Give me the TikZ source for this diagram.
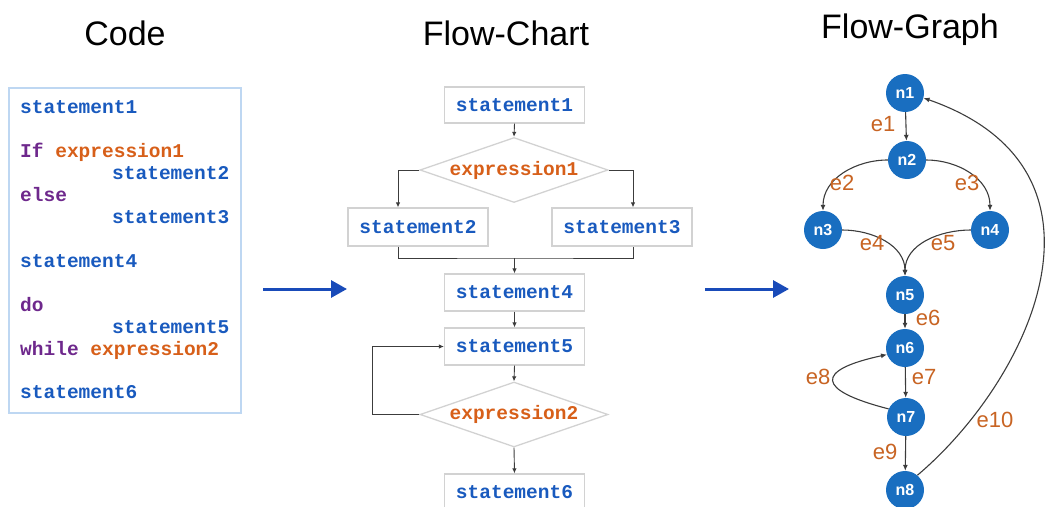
\documentclass[tikz,border=0pt]{standalone}
\usepackage{fontspec}
\setmainfont{Liberation Sans}
\newfontfamily\codefont{Liberation Mono}
\usetikzlibrary{shapes.geometric,arrows.meta,calc}
\definecolor{cblue}{RGB}{25,90,190}
\definecolor{cpurple}{RGB}{110,40,140}
\definecolor{corange}{RGB}{215,95,25}
\definecolor{lorange}{RGB}{200,100,35}
\definecolor{nodeblue}{RGB}{25,110,192}
\definecolor{arrowblue}{RGB}{25,75,185}
\definecolor{boxgray}{RGB}{210,210,210}
\definecolor{codeborder}{RGB}{190,215,242}
\definecolor{linegray}{RGB}{60,60,60}
\tikzset{
  title/.style={font=\fontsize{34}{40}\selectfont, anchor=base},
  codetxt/.style={font=\codefont\bfseries\fontsize{19.5}{22}\selectfont, anchor=base west, inner sep=0},
  fcbox/.style={draw=boxgray, line width=1.3pt, minimum width=140pt, minimum height=36pt, inner sep=0,
    font=\codefont\bfseries\fontsize{19.5}{22}\selectfont, text=cblue},
  fcdia/.style={diamond, draw=boxgray, line width=1.3pt, minimum width=188pt, minimum height=65pt, inner sep=0, aspect=2.9,
    font=\codefont\bfseries\fontsize{19.5}{22}\selectfont, text=corange},
  fcline/.style={draw=linegray, line width=0.9pt},
  fcarrow/.style={fcline, -{Latex[length=5pt,width=4.5pt]}},
  gnode/.style={circle, fill=nodeblue, minimum size=38pt, inner sep=0, text=white, font=\bfseries\fontsize{16}{18}\selectfont},
  gedge/.style={draw=linegray, line width=1.1pt, -{Latex[length=6pt,width=5pt]}},
  elabel/.style={text=lorange, font=\fontsize{22}{24}\selectfont, inner sep=0},
  bigarrow/.style={draw=arrowblue, line width=3pt, -{Triangle[length=16pt,width=17pt]}}
}
\begin{document}
\begin{tikzpicture}[x=1pt,y=1pt]
\useasboundingbox (0,0) rectangle (1046,-506);
\clip (0,0) rectangle (1046,-506);
% titles
\node[title] (tcode) at (125,-45) {Code};
\node[title] (tchart) at (506,-45) {Flow-Chart};
\node[title] (tgraph) at (910,-38) {Flow-Graph};
% code box
\draw[codeborder, line width=1.5pt] (9,-88) rectangle (241,-413);
\node[codetxt, text=cblue] (c1) at (20,-113) {statement1};
\node[codetxt, text=cpurple] (c2) at (20,-157) {If \textcolor{corange}{expression1}};
\node[codetxt, text=cblue] (c3) at (112,-179) {statement2};
\node[codetxt, text=cpurple] (c4) at (20,-201) {else};
\node[codetxt, text=cblue] (c5) at (112,-223) {statement3};
\node[codetxt, text=cblue] (c6) at (20,-267) {statement4};
\node[codetxt, text=cpurple] (c7) at (20,-311) {do};
\node[codetxt, text=cblue] (c8) at (112,-333) {statement5};
\node[codetxt, text=cpurple] (c9) at (20,-355) {while \textcolor{corange}{expression2}};
\node[codetxt, text=cblue] (c10) at (20,-398) {statement6};
% big arrows
\coordinate (a1s) at (263,-289);
\coordinate (a1e) at (347,-289);
\coordinate (a2s) at (705,-289);
\coordinate (a2e) at (789,-289);
\draw[bigarrow] (a1s) -- (a1e);
\draw[bigarrow] (a2s) -- (a2e);
% flow chart
\node[fcbox] (s1) at (514.5,-105) {statement1};
\node[fcdia] (d1) at (514,-170) {expression1};
\node[fcbox, minimum height=38pt] (s2) at (418,-227) {statement2};
\node[fcbox, minimum height=38pt] (s3) at (622,-227) {statement3};
\node[fcbox, minimum height=37pt] (s4) at (514.5,-292.5) {statement4};
\node[fcbox, minimum height=37pt] (s5) at (514.5,-346.5) {statement5};
\node[fcdia] (d2) at (514,-414.5) {expression2};
\node[fcbox, minimum height=37pt] (s6) at (514.5,-492.5) {statement6};
\draw[fcarrow] (s1.south) -- (d1.north);
\draw[fcarrow] (d1.west) -| ([xshift=-20pt]s2.north);
\draw[fcarrow] (d1.east) -| ([xshift=11pt]s3.north);
\coordinate (m) at (514.5,-258);
\draw[fcline] ([xshift=-20pt]s2.south) |- (m) -| ([xshift=11pt]s3.south);
\draw[fcarrow] (m) -- (s4.north);
\draw[fcarrow] (s4.south) -- (s5.north);
\draw[fcarrow] (s5.south) -- (d2.north);
\coordinate (lp) at (372,-414.5);
\draw[fcarrow] (d2.west) -- (lp) |- (s5.west);
\draw[fcarrow] (d2.south) -- (s6.north);
% flow graph
\node[gnode] (n1) at (905,-93) {n1};
\node[gnode] (n2) at (907,-160) {n2};
\node[gnode] (n3) at (823,-230) {n3};
\node[gnode] (n4) at (990,-230) {n4};
\node[gnode] (n5) at (905,-295) {n5};
\node[gnode] (n6) at (905,-348) {n6};
\node[gnode] (n7) at (906,-417) {n7};
\node[gnode] (n8) at (905,-490) {n8};
\draw[gedge] (n1) -- (n2);
\draw[gedge] (n2.west) to[out=180,in=90] (n3.north);
\draw[gedge] (n2.east) to[out=0,in=90] (n4.north);
\draw[gedge] (n3.east) to[out=0,in=90] (n5.north);
\draw[gedge] (n4.west) to[out=180,in=90] (n5.north);
\draw[gedge] (n5) -- (n6);
\draw[gedge] (n6) -- (n7);
\draw[gedge] (n7.155) .. controls (815,-390) and (815,-370) .. (n6.200);
\draw[gedge] (n7) -- (n8);
\draw[gedge] (n8.50) .. controls (1030,-380) and (1130,-170) .. (n1.-15);
\node[elabel] (l1) at (883,-124) {e1};
\node[elabel] (l2) at (842,-183) {e2};
\node[elabel] (l3) at (967,-183) {e3};
\node[elabel] (l4) at (872,-243) {e4};
\node[elabel] (l5) at (943,-243) {e5};
\node[elabel] (l6) at (928,-318) {e6};
\node[elabel] (l7) at (924,-377) {e7};
\node[elabel] (l8) at (818,-377) {e8};
\node[elabel] (l9) at (885,-452) {e9};
\node[elabel] (l10) at (995,-420) {e10};
\end{tikzpicture}
\end{document}
